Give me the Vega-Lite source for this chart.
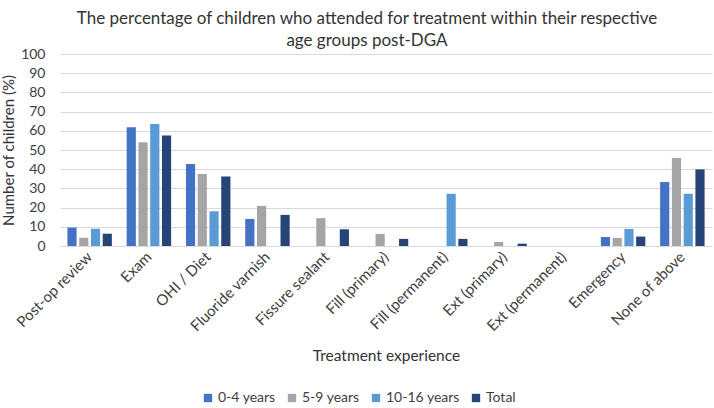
{
  "$schema": "https://vega.github.io/schema/vega-lite/v6.json",
  "width": 652,
  "height": 192,
  "autosize": {"type": "none"},
  "padding": {"left": 60, "top": 54, "right": 2, "bottom": 162},
  "background": "white",
  "title": {
    "text": ["The percentage of children who attended for treatment within their respective", "age groups post-DGA"],
    "anchor": "middle",
    "dx": -19,
    "offset": -3,
    "font": "Lato",
    "fontSize": 17,
    "fontWeight": "normal",
    "color": "#333333",
    "lineHeight": 22
  },
  "data": {
    "values": [
      {"treatment": "Post-op review", "group": "0-4 years", "value": 9.6},
      {"treatment": "Post-op review", "group": "5-9 years", "value": 4.3},
      {"treatment": "Post-op review", "group": "10-16 years", "value": 9.0},
      {"treatment": "Post-op review", "group": "Total", "value": 6.4},
      {"treatment": "Exam", "group": "0-4 years", "value": 61.8},
      {"treatment": "Exam", "group": "5-9 years", "value": 54.0},
      {"treatment": "Exam", "group": "10-16 years", "value": 63.6},
      {"treatment": "Exam", "group": "Total", "value": 57.5},
      {"treatment": "OHI / Diet", "group": "0-4 years", "value": 42.7},
      {"treatment": "OHI / Diet", "group": "5-9 years", "value": 37.5},
      {"treatment": "OHI / Diet", "group": "10-16 years", "value": 18.1},
      {"treatment": "OHI / Diet", "group": "Total", "value": 36.2},
      {"treatment": "Fluoride varnish", "group": "0-4 years", "value": 14.1},
      {"treatment": "Fluoride varnish", "group": "5-9 years", "value": 20.9},
      {"treatment": "Fluoride varnish", "group": "10-16 years", "value": 0},
      {"treatment": "Fluoride varnish", "group": "Total", "value": 16.2},
      {"treatment": "Fissure sealant", "group": "0-4 years", "value": 0},
      {"treatment": "Fissure sealant", "group": "5-9 years", "value": 14.5},
      {"treatment": "Fissure sealant", "group": "10-16 years", "value": 0},
      {"treatment": "Fissure sealant", "group": "Total", "value": 8.7},
      {"treatment": "Fill (primary)", "group": "0-4 years", "value": 0},
      {"treatment": "Fill (primary)", "group": "5-9 years", "value": 6.3},
      {"treatment": "Fill (primary)", "group": "10-16 years", "value": 0},
      {"treatment": "Fill (primary)", "group": "Total", "value": 3.7},
      {"treatment": "Fill (permanent)", "group": "0-4 years", "value": 0},
      {"treatment": "Fill (permanent)", "group": "5-9 years", "value": 0},
      {"treatment": "Fill (permanent)", "group": "10-16 years", "value": 27.2},
      {"treatment": "Fill (permanent)", "group": "Total", "value": 3.7},
      {"treatment": "Ext (primary)", "group": "0-4 years", "value": 0},
      {"treatment": "Ext (primary)", "group": "5-9 years", "value": 2.1},
      {"treatment": "Ext (primary)", "group": "10-16 years", "value": 0},
      {"treatment": "Ext (primary)", "group": "Total", "value": 1.2},
      {"treatment": "Ext (permanent)", "group": "0-4 years", "value": 0},
      {"treatment": "Ext (permanent)", "group": "5-9 years", "value": 0},
      {"treatment": "Ext (permanent)", "group": "10-16 years", "value": 0},
      {"treatment": "Ext (permanent)", "group": "Total", "value": 0},
      {"treatment": "Emergency", "group": "0-4 years", "value": 4.7},
      {"treatment": "Emergency", "group": "5-9 years", "value": 4.2},
      {"treatment": "Emergency", "group": "10-16 years", "value": 8.9},
      {"treatment": "Emergency", "group": "Total", "value": 4.9},
      {"treatment": "None of above", "group": "0-4 years", "value": 33.3},
      {"treatment": "None of above", "group": "5-9 years", "value": 45.8},
      {"treatment": "None of above", "group": "10-16 years", "value": 27.2},
      {"treatment": "None of above", "group": "Total", "value": 39.9}
    ]
  },
  "mark": {"type": "bar"},
  "encoding": {
    "x": {
      "field": "treatment",
      "type": "nominal",
      "sort": ["Post-op review", "Exam", "OHI / Diet", "Fluoride varnish", "Fissure sealant", "Fill (primary)", "Fill (permanent)", "Ext (primary)", "Ext (permanent)", "Emergency", "None of above"],
      "scale": {"paddingInner": 0.25, "paddingOuter": 0.125},
      "axis": {
        "title": "Treatment experience",
        "labelAngle": -45,
        "labelAlign": "right",
        "labelBaseline": "middle",
        "labelPadding": 8,
        "labelFontSize": 15,
        "ticks": false,
        "grid": false,
        "domainColor": "#d9d9d9",
        "titlePadding": 14
      }
    },
    "xOffset": {
      "field": "group",
      "type": "nominal",
      "sort": ["0-4 years", "5-9 years", "10-16 years", "Total"],
      "scale": {"paddingInner": 0.22}
    },
    "y": {
      "field": "value",
      "type": "quantitative",
      "scale": {"domain": [0, 100]},
      "axis": {
        "title": "Number of children (%)",
        "titleFontSize": 15,
        "values": [0, 10, 20, 30, 40, 50, 60, 70, 80, 90, 100],
        "domain": false,
        "ticks": false,
        "gridColor": "#d9d9d9",
        "labelPadding": 15,
        "titlePadding": 4
      }
    },
    "color": {
      "field": "group",
      "type": "nominal",
      "scale": {
        "domain": ["0-4 years", "5-9 years", "10-16 years", "Total"],
        "range": ["#4472C4", "#A5A5A5", "#5B9BD5", "#264478"]
      },
      "legend": {
        "title": null,
        "orient": "none",
        "direction": "horizontal",
        "legendX": 141,
        "legendY": 337,
        "symbolType": "square",
        "symbolSize": 70,
        "symbolStrokeWidth": 0,
        "labelFont": "Lato",
        "labelFontSize": 14,
        "labelColor": "#404040",
        "labelOffset": 3,
        "columnPadding": 9
      }
    }
  },
  "config": {
    "view": {"stroke": null},
    "axis": {
      "labelFont": "Lato",
      "labelFontSize": 14,
      "labelColor": "#404040",
      "titleFont": "Lato",
      "titleFontSize": 15.5,
      "titleFontWeight": "normal",
      "titleColor": "#333333"
    }
  }
}
